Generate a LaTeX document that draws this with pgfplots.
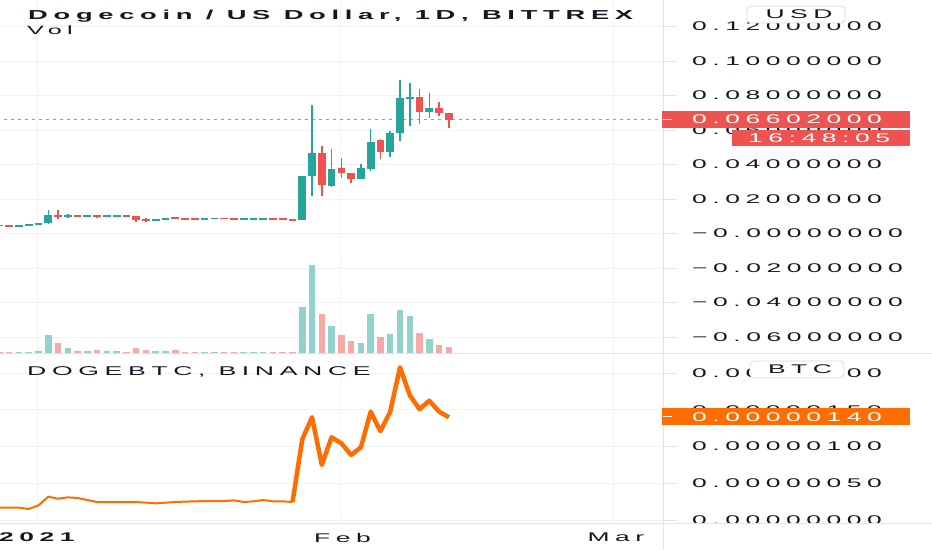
\documentclass[border=0pt]{standalone}
\usepackage{pgfplots}
\usepackage{pgfplotstable}
\pgfplotsset{compat=1.18}
\usepackage{fontspec}
\setmainfont{Liberation Sans}
\newfontfamily\tvfont[FakeStretch=2.1, LetterSpace=44]{Liberation Sans}
\definecolor{tvtext}{HTML}{131722}
\definecolor{upcol}{HTML}{26A69A}
\definecolor{downcol}{HTML}{EF5350}
\definecolor{upvol}{HTML}{92D2CC}
\definecolor{downvol}{HTML}{F7A9A7}
\definecolor{btcline}{HTML}{FF6D00}
\definecolor{gridcol}{HTML}{F0F3FA}
\definecolor{sepcol}{HTML}{E0E3EB}

% d = days since 1 Jan 2021; o h l c in USD; v = volume (bar height)
\pgfplotstableread{
d o h l c v
-2 0.0045 0.0047 0.0044 0.0047 1.0
-1 0.0047 0.0050 0.0046 0.0049 1.0
0 0.0049 0.0062 0.0048 0.0058 2.3
1 0.0058 0.0135 0.0056 0.0108 17.7
3 0.0100 0.0112 0.0088 0.0104 5.3
5 0.0101 0.0108 0.0096 0.0104 2.0
7 0.0098 0.0105 0.0094 0.0101 2.3
8 0.0101 0.0106 0.0097 0.0103 1.7
12 0.0077 0.0086 0.0073 0.0083 2.0
13 0.0083 0.0092 0.0081 0.0090 2.3
17 0.0084 0.0088 0.0082 0.0086 1.0
18 0.0086 0.0089 0.0084 0.0088 1.0
21 0.0084 0.0087 0.0081 0.0085 1.3
22 0.0085 0.0088 0.0083 0.0086 1.0
23 0.0086 0.0088 0.0084 0.0087 1.0
27 0.0077 0.0335 0.0076 0.0332 45.7
28 0.0332 0.0742 0.0220 0.0464 88.3
30 0.0274 0.0487 0.0270 0.0375 27.3
33 0.0317 0.0402 0.0314 0.0377 10.0
34 0.0375 0.0603 0.0361 0.0532 39.3
36 0.0471 0.0593 0.0445 0.0584 19.3
37 0.0580 0.0889 0.0535 0.0787 43.3
38 0.0784 0.0870 0.0626 0.0790 37.3
40 0.0703 0.0816 0.0670 0.0729 14.3
}\upcandles

\pgfplotstableread{
d o h l c v
-4 0.0047 0.0048 0.0045 0.0046 1.0
-3 0.0046 0.0047 0.0044 0.0045 1.5
2 0.0108 0.0139 0.0085 0.0100 10.0
4 0.0104 0.0107 0.0098 0.0101 1.7
6 0.0104 0.0108 0.0090 0.0098 3.0
9 0.0103 0.0106 0.0096 0.0099 1.3
10 0.0099 0.0102 0.0068 0.0080 5.0
11 0.0082 0.0088 0.0068 0.0077 2.7
14 0.0090 0.0093 0.0083 0.0086 3.0
15 0.0086 0.0089 0.0083 0.0085 1.3
16 0.0085 0.0088 0.0082 0.0084 1.0
19 0.0088 0.0090 0.0084 0.0086 1.3
20 0.0086 0.0088 0.0082 0.0084 1.3
24 0.0087 0.0089 0.0083 0.0085 1.3
25 0.0085 0.0087 0.0081 0.0083 1.0
26 0.0083 0.0085 0.0076 0.0077 1.3
29 0.0464 0.0510 0.0220 0.0280 39.0
31 0.0377 0.0439 0.0323 0.0348 18.3
32 0.0348 0.0350 0.0294 0.0317 11.7
35 0.0540 0.0547 0.0433 0.0471 16.0
39 0.0790 0.0835 0.0632 0.0703 20.0
41 0.0729 0.0761 0.0680 0.0698 8.3
42 0.0698 0.0700 0.0613 0.0660 6.0
}\downcandles

% DOGEBTC close, in millionths of a BTC
\pgfplotstableread{
d p
-4 0.168
-3 0.168
-2 0.168
-1 0.150
0 0.200
1 0.318
2 0.290
3 0.309
4 0.300
5 0.272
6 0.245
7 0.245
8 0.245
9 0.245
10 0.245
11 0.236
12 0.227
13 0.236
14 0.245
15 0.250
16 0.254
17 0.258
18 0.258
19 0.258
20 0.268
21 0.245
22 0.254
23 0.272
24 0.254
25 0.254
26 0.245
}\btcearly

\pgfplotstableread{
d p
26 0.245
27 1.100
28 1.400
29 0.750
30 1.127
31 1.045
32 0.886
33 0.990
34 1.476
35 1.210
36 1.476
37 2.080
38 1.700
39 1.510
40 1.625
41 1.476
42 1.400
}\btclate

\pgfplotsset{
  tvpane/.style={
    scale only axis, width=663pt,
    xmin=-3.94, xmax=63.92,
    axis line style={draw=none},
    xtick={-0.15,30.85,58.85},
    xmajorgrids, ymajorgrids,
    grid style={gridcol, line width=0.8pt},
    ytick pos=right, yticklabel pos=right,
    tick align=outside, major tick length=14pt,
    ytick style={sepcol, line width=0.8pt},
    xtick style={draw=none},
    yticklabel style={font=\tvfont\fontsize{12.6}{14}\selectfont, text=tvtext,
      anchor=west, inner sep=0pt, xshift=15pt},
  },
  wick/.style={draw=none, mark=none, forget plot,
    error bars/.cd, y dir=both, y explicit, error mark=none,
    error bar style={draw=#1, line width=1.5pt}},
  body/.style={draw=none, mark=none, forget plot,
    error bars/.cd, y dir=both, y explicit, error mark=none,
    error bar style={draw=#1, line width=7.7pt}},
}

\begin{document}
\begin{tikzpicture}
\useasboundingbox (0pt,0pt) rectangle (932pt,550pt);

% price pane
\begin{axis}[tvpane, at={(0pt,197pt)}, anchor=south west, height=353pt,
  ymin=-0.06928, ymax=0.13536,
  ytick={-0.06,-0.04,-0.02,0,0.02,0.04,0.06,0.08,0.10,0.12},
  yticklabels={−0.06000000,−0.04000000,−0.02000000,−0.00000000,0.02000000,
    0.04000000,0.06000000,0.08000000,0.10000000,0.12000000},
  xticklabels={}]
  \addplot[downcol!80, line width=1pt, dash pattern=on 3pt off 4pt, forget plot]
    coordinates {(-5,0.06602) (65,0.06602)};
  \addplot[wick=upcol] table[x=d, y expr={(\thisrow{o}+\thisrow{c})/2},
    y error plus expr={\thisrow{h}-(\thisrow{o}+\thisrow{c})/2},
    y error minus expr={(\thisrow{o}+\thisrow{c})/2-\thisrow{l}}] {\upcandles};
  \addplot[wick=downcol] table[x=d, y expr={(\thisrow{o}+\thisrow{c})/2},
    y error plus expr={\thisrow{h}-(\thisrow{o}+\thisrow{c})/2},
    y error minus expr={(\thisrow{o}+\thisrow{c})/2-\thisrow{l}}] {\downcandles};
  \addplot[body=upcol] table[x=d, y expr={(\thisrow{o}+\thisrow{c})/2},
    y error expr={max(abs(\thisrow{c}-\thisrow{o})/2,0.0005)}] {\upcandles};
  \addplot[body=downcol] table[x=d, y expr={(\thisrow{o}+\thisrow{c})/2},
    y error expr={max(abs(\thisrow{c}-\thisrow{o})/2,0.0005)}] {\downcandles};
\end{axis}

% volume, overlaid on the price pane
\begin{axis}[scale only axis, width=663pt, height=353pt, at={(0pt,197pt)},
  anchor=south west, xmin=-3.94, xmax=63.92, ymin=0, ymax=353, hide axis]
  \addplot[ycomb, upvol, line width=6.5pt, mark=none] table[x=d, y=v] {\upcandles};
  \addplot[ycomb, downvol, line width=6.5pt, mark=none] table[x=d, y=v] {\downcandles};
\end{axis}

% DOGEBTC pane
\begin{axis}[tvpane, at={(0pt,26.7pt)}, anchor=south west, height=170.3pt,
  ymin=-0.045, ymax=2.275,
  ytick={0,0.5,1,1.5,2},
  yticklabels={0.00000000,0.00000050,0.00000100,0.00000150,0.00000200},
  xticklabels={\textbf{2021},Feb,Mar},
  xticklabel style={font=\tvfont\fontsize{12.6}{14}\selectfont, text=tvtext,
    anchor=center, inner sep=0pt, yshift=-0.2pt, xshift=2.5pt}]
  \addplot[btcline, line width=2pt, mark=none, line join=round] table[x=d, y=p] {\btcearly};
  \addplot[btcline, line width=4.5pt, mark=none, line join=round] table[x=d, y=p] {\btclate};
\end{axis}

% labels below the pane are cut off as in the terminal
\fill[white] (664pt,0pt) rectangle (932pt,26.2pt);

\draw[sepcol, line width=1pt] (0pt,197pt) -- (932pt,197pt);
\draw[sepcol, line width=1pt] (0pt,26.7pt) -- (932pt,26.7pt);
\draw[sepcol, line width=1pt] (663pt,0pt) -- (663pt,550pt);

% last price labels
\fill[downcol] (662pt,421.7pt) rectangle (910pt,439pt);
\fill[downcol] (732pt,404pt) rectangle (910pt,420pt);
\draw[white, line width=1pt] (663pt,430.4pt) -- (672pt,430.4pt);
\node[anchor=west, inner sep=0pt, text=white, font=\tvfont\fontsize{12.6}{14}\selectfont]
  at (692pt,430.4pt) {0.06602000};
\node[anchor=west, inner sep=0pt, text=white, font=\tvfont\fontsize{12.6}{14}\selectfont]
  at (748pt,412pt) {16:48:05};
\fill[btcline] (662pt,125pt) rectangle (910pt,141.7pt);
\draw[white, line width=1pt] (663pt,133.3pt) -- (672pt,133.3pt);
\node[anchor=west, inner sep=0pt, text=white, font=\tvfont\fontsize{12.6}{14}\selectfont]
  at (692pt,133.3pt) {0.00000140};

% currency badges
\draw[gray!30, fill=white, line width=0.8pt, rounded corners=4pt]
  (747pt,527pt) rectangle (845pt,544pt);
\node[inner sep=0pt, text=tvtext, font=\tvfont\fontsize{12.6}{14}\selectfont]
  at (799pt,535.5pt) {USD};
\draw[gray!30, fill=white, line width=0.8pt, rounded corners=4pt]
  (750pt,172pt) rectangle (844pt,189pt);
\node[inner sep=0pt, text=tvtext, font=\tvfont\fontsize{12.6}{14}\selectfont]
  at (800pt,180.5pt) {BTC};

% pane titles
\node[anchor=base west, inner sep=0pt, text=tvtext, font=\tvfont\bfseries\fontsize{13}{14}\selectfont]
  at (28pt,530.7pt) {Dogecoin / US Dollar, 1D, BITTREX};
\node[anchor=base west, inner sep=0pt, text=tvtext, font=\tvfont\fontsize{12}{14}\selectfont]
  at (27pt,515pt) {Vol};
\node[anchor=base west, inner sep=0pt, text=tvtext, font=\tvfont\fontsize{12.7}{14}\selectfont]
  at (27pt,175pt) {DOGEBTC, BINANCE};
\end{tikzpicture}
\end{document}
